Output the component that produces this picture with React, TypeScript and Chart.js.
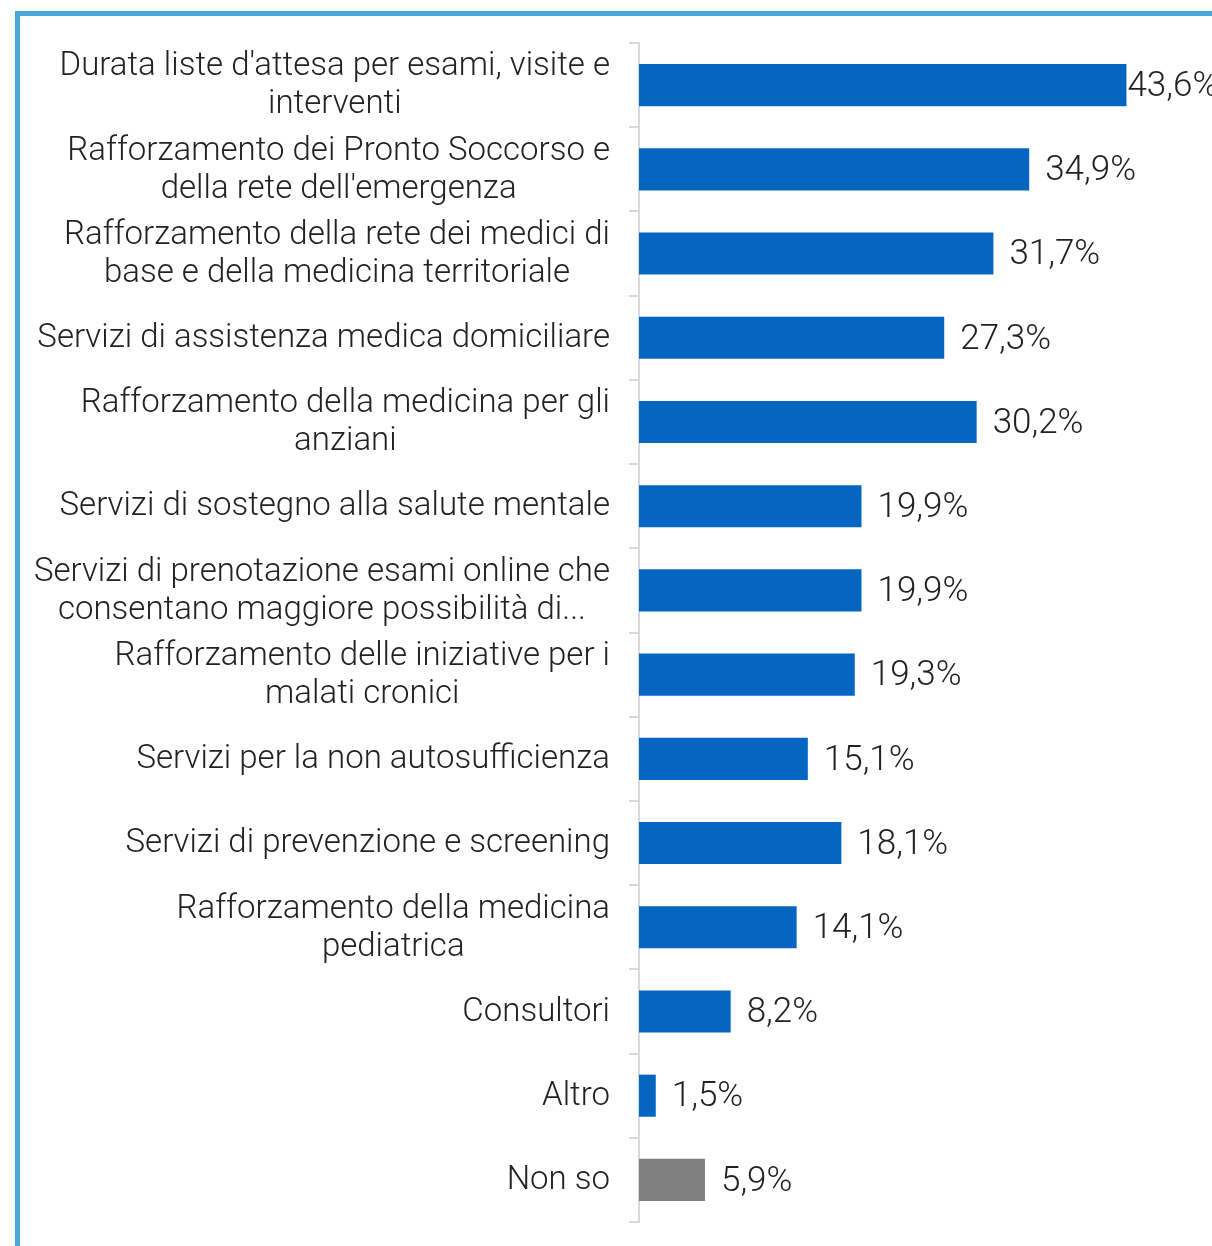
import React, { useEffect, useRef } from 'react';
import { Chart, registerables } from 'chart.js';

Chart.register(...registerables);

const categories: string[][] = [
  ["Durata liste d'attesa per esami, visite e", 'interventi'],
  ['Rafforzamento dei Pronto Soccorso e', "della rete dell'emergenza"],
  ['Rafforzamento della rete dei medici di', 'base e della medicina territoriale'],
  ['Servizi di assistenza medica domiciliare'],
  ['Rafforzamento della medicina per gli', 'anziani'],
  ['Servizi di sostegno alla salute mentale'],
  ['Servizi di prenotazione esami online che', 'consentano maggiore possibilità di...'],
  ['Rafforzamento delle iniziative per i', 'malati cronici'],
  ['Servizi per la non autosufficienza'],
  ['Servizi di prevenzione e screening'],
  ['Rafforzamento della medicina', 'pediatrica'],
  ['Consultori'],
  ['Altro'],
  ['Non so'],
];

const values: number[] = [43.6, 34.9, 31.7, 27.3, 30.2, 19.9, 19.9, 19.3, 15.1, 18.1, 14.1, 8.2, 1.5, 5.9];

const BLUE = '#0566c2';
const GRAY = '#808080';
const barColors: string[] = values.map((_, i) => (i === values.length - 1 ? GRAY : BLUE));

const LABEL_FONT = '300 33px Roboto';
const VALUE_FONT = '300 35px Roboto';
const TEXT_COLOR = '#222222';

const fmt = (v: number) => v.toFixed(1).replace('.', ',') + '%';

const labelPlugin = {
  id: 'customLabels',
  afterDatasetsDraw(chart: any) {
    const ctx = chart.ctx as CanvasRenderingContext2D;
    const yScale = chart.scales.y;
    const meta = chart.getDatasetMeta(0);
    ctx.save();
    ctx.font = LABEL_FONT;
    ctx.fillStyle = TEXT_COLOR;
    ctx.textBaseline = 'middle';
    const rightEdge = chart.chartArea.left - 29;
    const lh = 38;
    categories.forEach((lines, i) => {
      const yc = yScale.getPixelForTick(i) + 1;
      const bw = Math.max(...lines.map((l) => ctx.measureText(l).width));
      const cx = rightEdge - bw / 2;
      ctx.textAlign = 'center';
      lines.forEach((l, j) => {
        ctx.fillText(l, cx, yc + (j - (lines.length - 1) / 2) * lh);
      });
    });
    ctx.font = VALUE_FONT;
    ctx.textAlign = 'left';
    meta.data.forEach((bar: any, i: number) => {
      const txt = fmt(values[i]);
      const w = ctx.measureText(txt).width;
      let x = bar.x + 16;
      if (x + w > chart.width) x = bar.x + 1;
      ctx.fillText(txt, x, bar.y + 2);
    });
    ctx.restore();
  },
};

export default function App() {
  const canvasRef = useRef<HTMLCanvasElement | null>(null);

  useEffect(() => {
    if (!canvasRef.current) return;
    const chart = new Chart(canvasRef.current, {
      type: 'bar',
      data: {
        labels: categories.map((c) => c.join(' ')),
        datasets: [
          {
            data: values,
            backgroundColor: barColors,
            borderWidth: 0,
            barPercentage: 0.5,
            categoryPercentage: 1,
          },
        ],
      },
      options: {
        indexAxis: 'y',
        animation: false,
        responsive: true,
        maintainAspectRatio: false,
        layout: { padding: { top: 43, bottom: 24, right: 14, left: 0 } },
        plugins: {
          legend: { display: false },
          tooltip: { enabled: false },
        },
        scales: {
          x: {
            min: 0,
            max: 50,
            display: false,
          },
          y: {
            type: 'category',
            offset: true,
            grid: {
              offset: true,
              drawOnChartArea: false,
              drawTicks: true,
              tickLength: 10,
              color: '#d9d9d9',
              lineWidth: 2,
            },
            border: { display: true, color: '#d9d9d9', width: 2 },
            ticks: { display: false },
            afterFit: (scale: any) => {
              scale.width = 639;
            },
          },
        },
      },
      plugins: [labelPlugin],
    });
    return () => chart.destroy();
  }, []);

  return (
    <div style={{ position: 'absolute', left: 0, top: 0, width: 1212, height: 1246, overflow: 'hidden', background: '#fff' }}>
      <div
        style={{
          position: 'absolute',
          left: 15,
          top: 11,
          width: 1197,
          height: 1235,
          boxSizing: 'border-box',
          borderLeft: '5px solid #4aa8d8',
          borderTop: '5px solid #4aa8d8',
        }}
      />
      <div style={{ position: 'absolute', left: 0, top: 0, width: 1212, height: 1246 }}>
        <canvas ref={canvasRef} />
      </div>
    </div>
  );
}
